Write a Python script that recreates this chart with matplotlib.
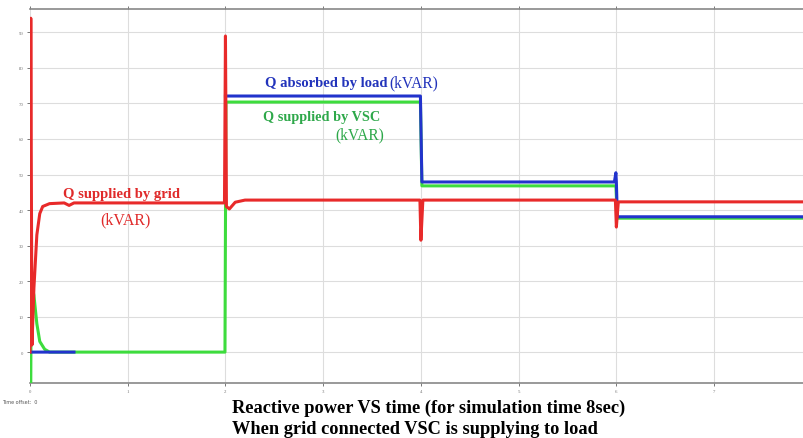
import matplotlib
matplotlib.use("Agg")
import matplotlib.pyplot as plt
import numpy as np

# reactive power traces (time in s, Q in kVAR)
t_grid = [0, 0.008, 0.02, 0.04, 0.07, 0.1, 0.13, 0.2, 0.35, 0.4, 0.45, 0.5, 1.99, 2.0, 2.01, 2.04, 2.1, 2.2,
          3.99, 4.0, 4.02, 5.99, 6.0, 6.02, 7.92]
q_grid = [0, 94, 2, 18, 33, 39, 41, 41.8, 42, 41.3, 42, 42, 42, 89, 41, 40.3, 42.2, 42.8,
          42.8, 31.5, 42.8, 42.8, 35.2, 42.3, 42.3]

t_vsc = [0, 0.008, 0.012, 0.04, 0.07, 0.1, 0.15, 0.2, 1.995, 2.005, 3.995, 4.01, 5.995, 6.01, 7.92]
q_vsc = [-9, -9, 20, 16, 8, 3, 0.8, 0, 0, 70.4, 70.4, 46.8, 46.8, 37.7, 37.7]

t_load = [0, 0.45, np.nan, 2.0, 2.005, 3.995, 4.01, 5.98, 5.995, 6.0, 6.01, 7.92]
q_load = [0, 0, np.nan, 72.1, 72.1, 72.1, 47.9, 47.9, 50.5, 47.9, 38.1, 38.1]

x_ticks = [0, 1, 2, 3, 4, 5, 6, 7]
y_ticks = [0, 10, 20, 30, 40, 50, 60, 70, 80, 90]

plt.rcParams['font.family'] = ['Liberation Serif', 'DejaVu Serif']

fig = plt.figure(figsize=(8.04, 4.39), dpi=100)
ax = fig.add_axes([30/804, 1 - 384/439, 1 - 30/804, 374/439])

ax.plot(t_load, q_load, color="#2233cc", lw=2.2, zorder=4)
ax.plot(t_vsc, q_vsc, color="#3ddc3d", lw=2.2, zorder=3)
ax.plot(t_grid, q_grid, color="#e82a2a", lw=2.2, zorder=5)

ax.set_xlim(0, 7.92)
ax.set_ylim(-8.7, 96.6)
ax.set_xticks(x_ticks)
ax.set_yticks(y_ticks)
ax.set_xticklabels([str(v) for v in x_ticks], fontsize=3.5, color="#555555")
ax.set_yticklabels([str(v) for v in y_ticks], fontsize=3.5, color="#555555")
ax.tick_params(length=2.5, width=0.7, colors="#777777", pad=2, top=True)
ax.grid(True, color="#dddddd", lw=0.8)
for side in ["left", "right"]:
    ax.spines[side].set_visible(False)
for side in ["top", "bottom"]:
    ax.spines[side].set_color("#888888")
    ax.spines[side].set_linewidth(1.2)

# trace labels
ax.text(0.34, 43.7, "Q supplied by grid", color="#e02a2a", fontsize=10.5, fontweight="bold")
ax.text(0.716, 36.3, "(kVAR)", color="#e02a2a", fontsize=11.5)
ax.text(2.40, 74.9, "Q absorbed by load", color="#2233bb", fontsize=10.5, fontweight="bold")
ax.text(3.68, 74.9, "(kVAR)", color="#2233bb", fontsize=11.2)
ax.text(2.38, 65.4, "Q supplied by VSC", color="#2ea84a", fontsize=10.3, fontweight="bold")
ax.text(3.12, 60.3, "(kVAR)", color="#2ea84a", fontsize=11.2)

fig.text(2/804, 1 - 404/439, "Time offset:  0", fontsize=3.5, color="#555555", family="DejaVu Sans")
fig.text(232/804, 1 - 413/439, "Reactive power VS time (for simulation time 8sec)", fontsize=13.2, fontweight="bold")
fig.text(232/804, 1 - 434/439, "When grid connected VSC is supplying to load", fontsize=13.2, fontweight="bold")

fig.savefig("out.png", dpi=100)
